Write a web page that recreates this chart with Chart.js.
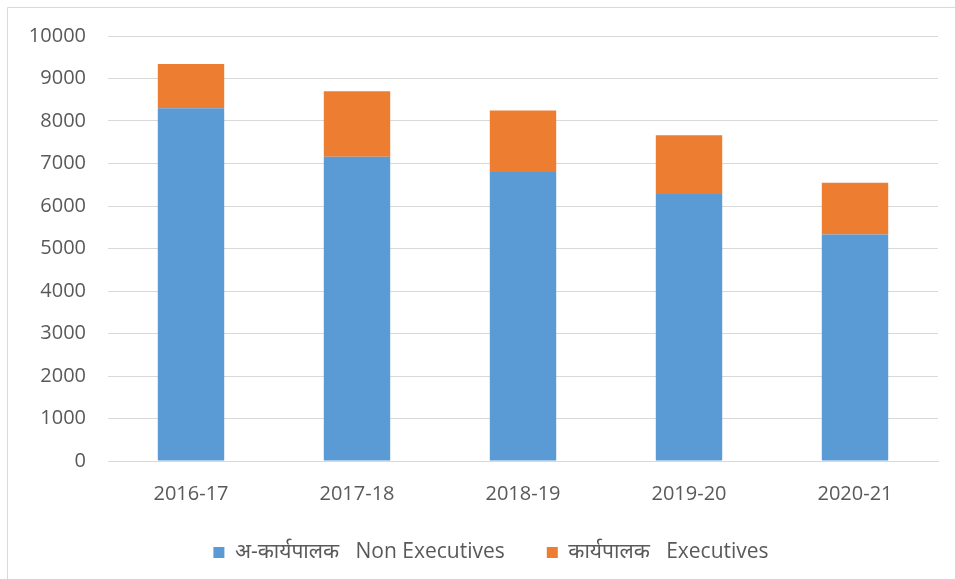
<!DOCTYPE html>
<html>
<head>
<meta charset="utf-8">
<script src="https://cdn.jsdelivr.net/npm/chart.js@4/dist/chart.umd.min.js"></script>
<style>
html,body{margin:0;padding:0;background:#fff;}
#wrap{position:absolute;left:0;top:0;width:955px;height:579px;}
</style>
</head>
<body>
<div id="wrap"><canvas id="c" width="955" height="579"></canvas></div>
<script>
const categories = ['2016-17', '2017-18', '2018-19', '2019-20', '2020-21'];
const nonExecutives = [8300, 7160, 6800, 6280, 5330];
const executives = [1040, 1540, 1450, 1385, 1220];
const seriesLabels = ['अ-कार्यपालक   Non Executives', 'कार्यपालक   Executives'];
const yTicks = [0, 1000, 2000, 3000, 4000, 5000, 6000, 7000, 8000, 9000, 10000];

const FONT = "'Open Sans', 'Noto Sans', sans-serif";

const borderPlugin = {
  id: 'outerBorder',
  afterDraw(chart) {
    const ctx = chart.ctx;
    ctx.save();
    ctx.strokeStyle = '#d9d9d9';
    ctx.lineWidth = 1;
    ctx.beginPath();
    ctx.moveTo(7.5, 579);
    ctx.lineTo(7.5, 7.5);
    ctx.lineTo(955, 7.5);
    ctx.stroke();
    ctx.restore();
  }
};

new Chart(document.getElementById('c'), {
  type: 'bar',
  data: {
    labels: categories,
    datasets: [
      { label: seriesLabels[0], data: nonExecutives, backgroundColor: '#5B9BD5', barPercentage: 0.4, categoryPercentage: 1.0 },
      { label: seriesLabels[1], data: executives, backgroundColor: '#ED7D31', barPercentage: 0.4, categoryPercentage: 1.0 }
    ]
  },
  options: {
    responsive: false,
    animation: false,
    devicePixelRatio: 1,
    layout: { padding: { left: 27, top: 36, right: 0, bottom: 6 } },
    plugins: {
      legend: {
        position: 'bottom',
        labels: {
          boxWidth: 11, boxHeight: 11, padding: 42,
          color: '#595959',
          font: { family: FONT, size: 21 }
        }
      },
      tooltip: { enabled: false }
    },
    scales: {
      x: {
        stacked: true,
        grid: { display: false, drawTicks: false },
        border: { display: true, color: '#d9d9d9', width: 1 },
        ticks: { color: '#595959', padding: 21, font: { family: FONT, size: 20 } },
        afterFit(scale) { scale.height = 39; }
      },
      y: {
        stacked: true,
        min: 0, max: 10000,
        afterBuildTicks(scale) { scale.ticks = yTicks.map(v => ({ value: v })); },
        grid: { color: '#d9d9d9', lineWidth: 1, drawTicks: false },
        border: { display: false },
        ticks: { color: '#595959', padding: 22, font: { family: FONT, size: 20 }, callback: v => String(v) },
        afterFit(scale) { scale.width = 81; }
      },
      yRight: {
        position: 'right',
        min: 0, max: 10000,
        grid: { display: false, drawTicks: false },
        border: { display: false },
        ticks: { display: false },
        afterFit(scale) { scale.width = 17; }
      }
    }
  },
  plugins: [borderPlugin]
});
</script>
</body>
</html>
